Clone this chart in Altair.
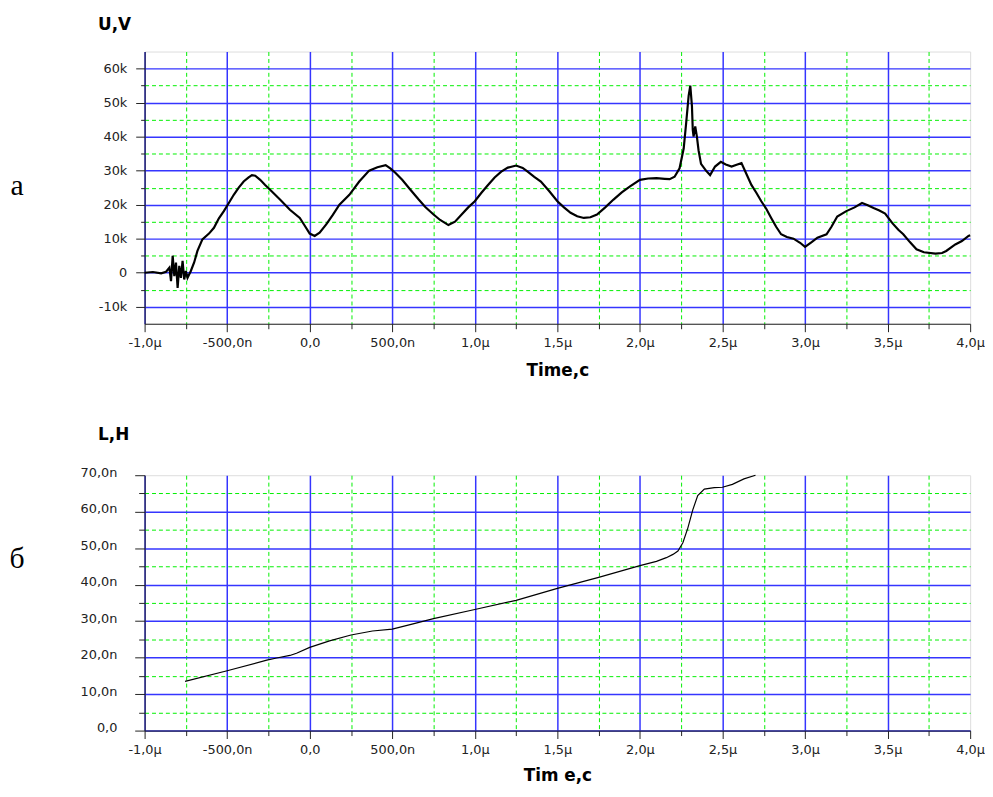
import altair as alt
import pandas as pd

# ---- panel a: voltage U (kV) vs time (μs) ----
u_time = [-1.00, -0.95, -0.90, -0.87, -0.85, -0.84, -0.83, -0.82, -0.81, -0.80, -0.79, -0.78,
          -0.77, -0.76, -0.75, -0.74, -0.72, -0.70, -0.68, -0.65, -0.61, -0.58, -0.55, -0.52,
          -0.49, -0.46, -0.43, -0.40, -0.37, -0.35, -0.33, -0.30, -0.27, -0.24, -0.18, -0.12,
          -0.06, -0.03, 0.00, 0.03, 0.06, 0.10, 0.14, 0.18, 0.24, 0.30, 0.36, 0.41, 0.46, 0.49,
          0.52, 0.56, 0.61, 0.66, 0.70, 0.75, 0.79, 0.84, 0.88, 0.92, 0.96, 1.00, 1.04, 1.08,
          1.12, 1.16, 1.20, 1.25, 1.29, 1.32, 1.36, 1.40, 1.45, 1.50, 1.54, 1.58, 1.62, 1.66,
          1.70, 1.74, 1.79, 1.84, 1.89, 1.94, 2.00, 2.05, 2.10, 2.15, 2.18, 2.21, 2.24, 2.265,
          2.28, 2.295, 2.305, 2.315, 2.32, 2.325, 2.335, 2.345, 2.355, 2.37, 2.40, 2.425, 2.455,
          2.49, 2.52, 2.555, 2.59, 2.615, 2.645, 2.675, 2.705, 2.735, 2.765, 2.795, 2.825, 2.855,
          2.89, 2.93, 2.97, 3.00, 3.04, 3.075, 3.13, 3.16, 3.195, 3.25, 3.30, 3.345, 3.38, 3.415,
          3.45, 3.485, 3.53, 3.565, 3.595, 3.635, 3.675, 3.72, 3.79, 3.83, 3.855, 3.91, 3.95,
          3.99, 4.00]
u_volt = [0.0, 0.2, -0.2, 0.3, 1.5, -2.5, 5.0, -1.0, 3.0, -4.5, 2.0, -1.5,
          3.5, -2.0, 0.5, -1.5, 0.5, 3.0, 6.4, 9.8, 11.5, 13.2, 16.0, 18.1,
          20.5, 22.9, 25.0, 26.8, 28.0, 28.7, 28.5, 27.3, 25.8, 24.4, 21.5, 18.5,
          16.1, 13.8, 11.5, 10.8, 11.8, 14.2, 17.0, 20.0, 22.9, 26.8, 30.0, 31.0, 31.6, 30.6,
          29.3, 27.3, 24.4, 21.5, 19.3, 17.1, 15.5, 14.0, 15.0, 17.1, 19.2, 21.0, 23.5, 25.8,
          28.0, 29.7, 30.9, 31.5, 30.8, 29.7, 28.2, 26.8, 24.0, 21.0, 19.2, 17.6, 16.6, 16.1,
          16.3, 17.1, 19.2, 21.5, 23.6, 25.4, 27.3, 27.7, 27.8, 27.6, 27.5, 28.2, 30.7, 36.5,
          44.0, 52.0, 55.0, 49.0, 42.0, 40.0, 43.0, 40.0, 36.0, 32.0, 30.0, 28.7, 31.2,
          32.6, 31.8, 31.2, 31.8, 32.2, 29.0, 25.8, 23.5, 21.0, 18.8, 16.1, 13.5, 11.3,
          10.5, 10.0, 8.8, 7.6, 9.0, 10.3, 11.3, 13.5, 16.5, 18.1, 19.2, 20.5, 19.8, 19.0,
          18.3, 17.4, 14.5, 12.6, 11.3, 9.0, 6.9, 6.0, 5.6, 5.8, 6.4, 8.3, 9.3,
          10.8, 11.0]

# ---- panel б: inductance L (nH) vs time (μs) ----
l_time = [-0.755, -0.5, -0.26, -0.2, -0.12, -0.08, 0.0, 0.12, 0.25, 0.38, 0.5, 0.62, 0.75,
          1.0, 1.25, 1.5, 1.75, 2.0, 2.1, 2.16, 2.2, 2.23, 2.26, 2.29, 2.32, 2.35, 2.39,
          2.45, 2.5, 2.56, 2.63, 2.70]
l_ind = [13.5, 16.4, 19.3, 19.9, 20.6, 21.2, 22.8, 24.6, 26.2, 27.3, 27.8, 29.2, 30.7,
         33.2, 35.7, 39.0, 42.0, 45.2, 46.4, 47.4, 48.3, 49.2, 51.5, 55.5, 60.5, 64.4, 66.2,
         66.6, 66.7, 67.5, 69.0, 70.0]

# ---- axis ticks / labels ----
x_major = [-1.0, -0.5, 0.0, 0.5, 1.0, 1.5, 2.0, 2.5, 3.0, 3.5, 4.0]
x_labels = ["-1,0μ", "-500,0n", "0,0", "500,0n", "1,0μ", "1,5μ", "2,0μ", "2,5μ",
            "3,0μ", "3,5μ", "4,0μ"]
x_minor = [-0.75, -0.25, 0.25, 0.75, 1.25, 1.75, 2.25, 2.75, 3.25, 3.75]

u_major = [-10, 0, 10, 20, 30, 40, 50, 60]
u_labels = ["-10k", "0", "10k", "20k", "30k", "40k", "50k", "60k"]
u_minor = [-5, 5, 15, 25, 35, 45, 55]

l_major = [0, 10, 20, 30, 40, 50, 60, 70]
l_labels = ["0,0", "10,0n", "20,0n", "30,0n", "40,0n", "50,0n", "60,0n", "70,0n"]
l_minor = [5, 15, 25, 35, 45, 55, 65]

BLUE = "#3535ff"
GREEN = "#00f000"
DARK = "#222222"
SANS = "DejaVu Sans"


def label_expr(values, labels):
    expr = "''"
    for v, lab in reversed(list(zip(values, labels))):
        expr = f"datum.value === {v} ? '{lab}' : ({expr})"
    return expr


def cond(test, a, b):
    return {"condition": {"test": test, "value": a}, "value": b}


def x_axis(title, tick_major, label_pad, title_pad):
    minor = "datum.value % 0.5 !== 0"
    return alt.Axis(
        values=sorted(x_major + x_minor), labelExpr=label_expr(x_major, x_labels),
        grid=True, gridColor=cond(minor, GREEN, BLUE), gridDash=cond(minor, [4, 3], []),
        gridWidth=cond(minor, 1, 1.5), gridOpacity=cond("datum.value === 4", 0, 1),
        tickSize=cond(minor, 5, tick_major), tickColor=DARK, tickWidth=1,
        domainColor=DARK, domainWidth=1,
        labelFont=SANS, labelFontSize=13, labelColor=DARK, labelPadding=label_pad,
        labelOverlap=False, labelFlush=False,
        title=title, titleFont=SANS, titleFontSize=17, titleFontWeight="bold",
        titleColor="black", titlePadding=title_pad)


def y_axis(major, minor_vals, labels, step, top_val, letter, tx, ty, tick_major,
           tick_minor, label_pad, label_off):
    minor = f"datum.value % {step} !== 0"
    return alt.Axis(
        values=sorted(major + minor_vals), labelExpr=label_expr(major, labels),
        grid=True, gridColor=cond(minor, GREEN, BLUE), gridDash=cond(minor, [4, 3], []),
        gridWidth=cond(minor, 1, 1.5), gridOpacity=cond(f"datum.value === {top_val}", 0, 1),
        tickSize=cond(minor, tick_minor, tick_major), tickColor=DARK, tickWidth=1,
        domainColor=DARK, domainWidth=1,
        labelFont=SANS, labelFontSize=13, labelColor=DARK, labelPadding=label_pad,
        labelOffset=label_off, labelOverlap=False, labelFlush=False,
        title=letter, titleAngle=0, titleX=tx, titleY=ty, titleAlign="left",
        titleBaseline="alphabetic", titleFont="Liberation Serif", titleFontSize=30,
        titleFontWeight="normal", titleColor="black")


df_u = pd.DataFrame({"t": u_time, "u": u_volt, "i": range(len(u_time))})
df_l = pd.DataFrame({"t": l_time, "l": l_ind, "i": range(len(l_time))})

top = alt.Chart(df_u).mark_line(color="black", strokeWidth=2.2).encode(
    x=alt.X("t:Q", scale=alt.Scale(domain=[-1, 4], nice=False, zero=False),
            axis=x_axis("Time,c", 8, 5, 13)),
    y=alt.Y("u:Q", scale=alt.Scale(domain=[-15, 65], nice=False, zero=False),
            axis=y_axis(u_major, u_minor, u_labels, 10, 999, "а", -136, 144, 9, 4, 9, 0)),
    order="i:Q",
).properties(
    width=834, height=275,
    title=alt.TitleParams(text="U,V", anchor="start", frame="group", dx=-47, offset=5,
                          font=SANS, fontSize=17, fontWeight="bold", color="black",
                          baseline="alphabetic"),
)

bottom = alt.Chart(df_l).mark_line(color="black", strokeWidth=1.2).encode(
    x=alt.X("t:Q", scale=alt.Scale(domain=[-1, 4], nice=False, zero=False),
            axis=x_axis("Tim e,c", 8, 5, 11)),
    y=alt.Y("l:Q", scale=alt.Scale(domain=[0, 70], nice=False, zero=False),
            axis=y_axis(l_major, l_minor, l_labels, 10, 70, "б", -137, 93, 10, 6, 18, -3)),
    order="i:Q",
).properties(
    width=834, height=258,
    title=alt.TitleParams(text="L,H", anchor="start", frame="group", dx=-47, offset=10,
                          font=SANS, fontSize=17, fontWeight="bold", color="black",
                          baseline="alphabetic"),
)

chart = alt.vconcat(top, bottom, spacing=153, bounds="flush").properties(
    padding={"left": 0, "top": 3, "right": 0, "bottom": 0}
).configure_view(stroke=None).configure(background="white")

chart.save("out.html", embed_options={"renderer": "svg", "actions": False})
